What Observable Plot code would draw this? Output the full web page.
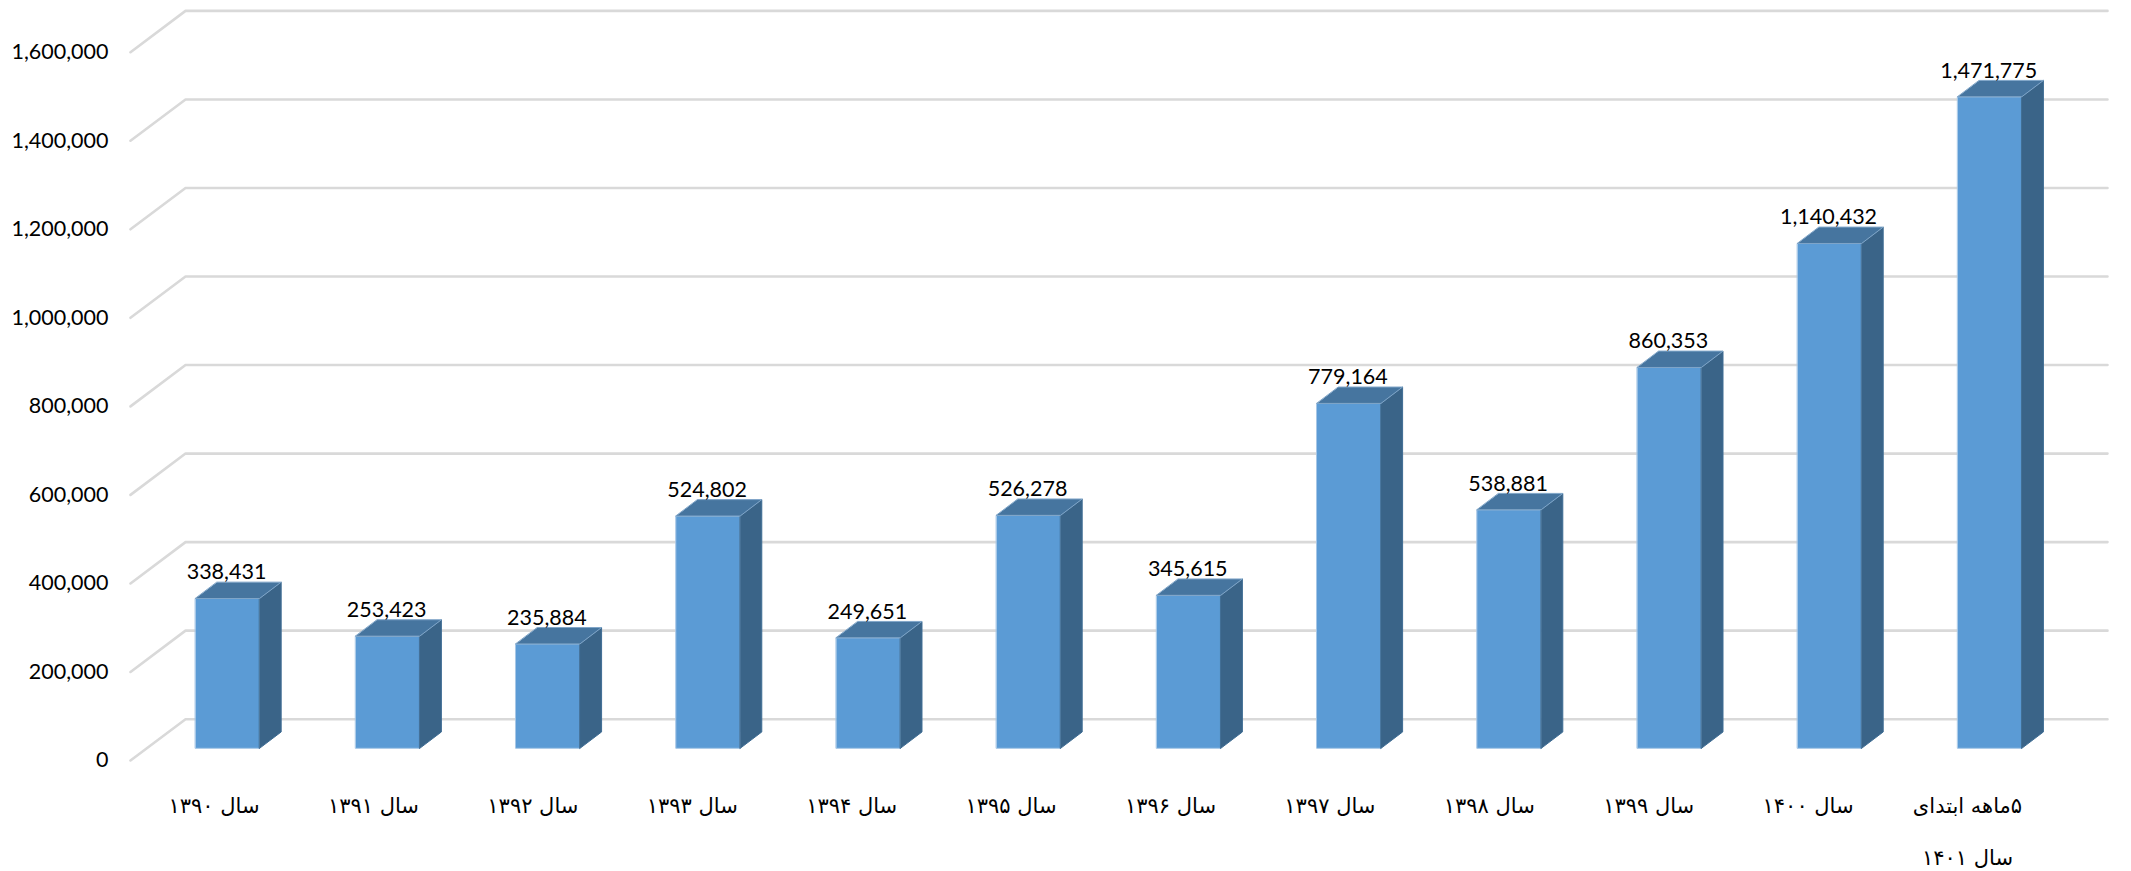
<!DOCTYPE html>
<html lang="fa">
<head>
<meta charset="utf-8">
<script src="https://cdn.jsdelivr.net/npm/d3@7"></script>
<script src="https://cdn.jsdelivr.net/npm/@observablehq/plot@0.6"></script>
<style>
html,body{margin:0;padding:0;background:#fff;overflow:hidden}
svg{display:block}
</style>
</head>
<body>
<div id="chart"></div>
<script>
const categories = ["سال ۱۳۹۰","سال ۱۳۹۱","سال ۱۳۹۲","سال ۱۳۹۳","سال ۱۳۹۴","سال ۱۳۹۵","سال ۱۳۹۶","سال ۱۳۹۷","سال ۱۳۹۸","سال ۱۳۹۹","سال ۱۴۰۰","\u200f۵ماهه ابتدای\nسال ۱۴۰۱"];
const values = [338431,253423,235884,524802,249651,526278,345615,779164,538881,860353,1140432,1471775];
const ticks = [0,200000,400000,600000,800000,1000000,1200000,1400000,1600000];

// 3-D projection offsets, in scale units
const halfBar = 0.2, depthX = 0.135, depthY = 37000, lift = 27500;
const wallX = 0.3435, wallY = 93300, gridEnd = 12.235, gridStart = -0.1055;

const front = [], side = [], top3d = [];
values.forEach((v, i) => {
  const c = i + 0.5, l = c - halfBar, r = c + halfBar, b = lift, t = v + lift;
  const poly = (arr, pts) => pts.forEach(([x, y]) => arr.push({i, x, y}));
  poly(front, [[l,b],[r,b],[r,t],[l,t]]);
  poly(side, [[r,b],[r+depthX,b+depthY],[r+depthX,t+depthY],[r,t]]);
  poly(top3d, [[l,t],[r,t],[r+depthX,t+depthY],[l+depthX,t+depthY]]);
});
const grid = ticks.flatMap(v => [
  {v, x: gridStart, y: v},
  {v, x: gridStart + wallX, y: v + wallY},
  {v, x: gridEnd, y: v + wallY}
]);
const bars = values.map((v, i) => ({v, i, c: i + 0.5, label: categories[i], top: v + lift}));

const face = (data, fill, stroke) => Plot.line(data, {
  x: "x", y: "y", z: "i", fill, stroke, strokeWidth: 1, curve: "linear-closed"
});

const chart = Plot.plot({
  width: 2131,
  height: 871,
  marginLeft: 130, marginTop: 0, marginRight: 0, marginBottom: 0,
  style: {background: "#fff", fontFamily: "Lato, sans-serif", fontSize: "21.5px", color: "#000", overflow: "visible"},
  x: {domain: [gridStart, gridEnd], range: [130, 2107], axis: null},
  y: {domain: [0, 1600000], range: [760, 51.7]},
  marks: [
    Plot.line(grid, {x: "x", y: "y", z: "v", stroke: "#d9d9d9", strokeWidth: 2.6}),
    face(front, "#5b9bd5", "#a5c6e6"),
    face(side, "#3a6488", "#3f6d94"),
    face(top3d, "#46759f", "#7fa5c8"),
    Plot.axisY(ticks, {
      anchor: "left", tickSize: 0, tickPadding: 22, label: null,
      tickFormat: d3.format(","), fontSize: 21.5, fill: "#000"
    }),
    Plot.text(bars, {
      x: "c", y: "top", text: d => d3.format(",")(d.v), dx: -1, dy: -26,
      fontSize: 21.5, fill: "#000", textAnchor: "middle"
    }),
    Plot.text(bars, {
      x: d => d.c - 0.084 - d.i * 0.005, y: 0, text: "label",
      dy: 15, lineAnchor: "top", lineHeight: 2.5,
      fontFamily: "'DejaVu Sans', serif", fontSize: 21, fill: "#000", textAnchor: "middle"
    })
  ]
});
document.getElementById("chart").append(chart);
</script>
</body>
</html>
